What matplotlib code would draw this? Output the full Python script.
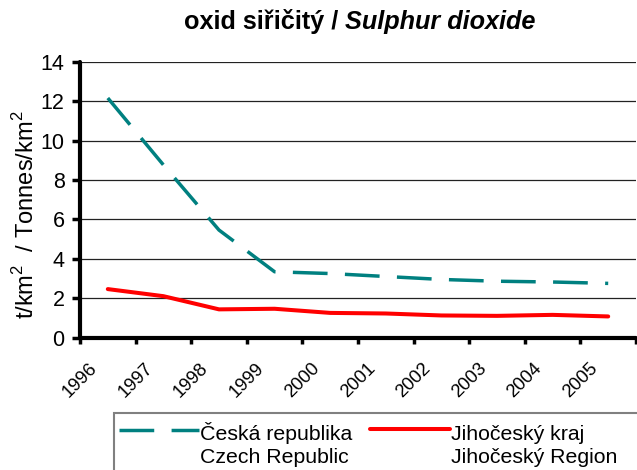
import matplotlib
matplotlib.use("Agg")
import matplotlib.pyplot as plt
from matplotlib.lines import Line2D
from matplotlib.patches import Rectangle

plt.rcParams['font.family'] = ['Liberation Sans', 'DejaVu Sans']
plt.rcParams['mathtext.fontset'] = 'custom'
plt.rcParams['mathtext.rm'] = 'Liberation Sans'

years = ['1996', '1997', '1998', '1999', '2000', '2001', '2002', '2003', '2004', '2005']
czech = [12.17, 8.77, 5.46, 3.34, 3.25, 3.10, 2.95, 2.86, 2.82, 2.75]
jihocesky = [2.46, 2.10, 1.43, 1.46, 1.25, 1.22, 1.12, 1.10, 1.15, 1.07]
yticks = [0, 2, 4, 6, 8, 10, 12, 14]

W, H = 637, 470
fig = plt.figure(figsize=(W / 100, H / 100), dpi=100)
ax_l, ax_r, ax_t, ax_b = 80, 636, 62, 337.5
ax = fig.add_axes([ax_l / W, 1 - ax_b / H, (ax_r - ax_l) / W, (ax_b - ax_t) / H])

x = list(range(len(years)))
teal = '#008080'
ax.plot(x, czech, color=teal, lw=2.5, linestyle=(0, (10, 5)),
        dash_capstyle='butt', zorder=3, clip_on=False)
ax.plot(x, jihocesky, color='#FF0000', lw=2.9, solid_capstyle='round', zorder=3, clip_on=False)

ax.set_xlim(-0.5, len(years) - 0.5)
ax.set_ylim(0, 14)
ax.set_yticks(yticks)
ax.set_yticklabels([str(v) for v in yticks], fontsize=15.5)
for v in yticks[1:]:
    ax.axhline(v, color='#222222', lw=0.9, zorder=1)

ticks = [i - 0.5 for i in range(len(years) + 1)]
ax.set_xticks(ticks)
ax.set_xticklabels(years + [''], fontsize=13.3, rotation=45, ha='center', va='center')
ax.tick_params(axis='x', length=4, width=2.5, pad=27, direction='out')
ax.tick_params(axis='y', length=6, width=2.5, pad=5, direction='out')

for s in ['top', 'right']:
    ax.spines[s].set_visible(False)
for s in ['left', 'bottom']:
    ax.spines[s].set_linewidth(3)
    ax.spines[s].set_capstyle('round')

fig.text(26 / W, 1 - 215 / H, 't/km$^\\mathregular{2}$  / Tonnes/km$^\\mathregular{2}$',
         rotation=90, ha='center', va='center', fontsize=17)

# title in two parts (bold + bold italic), centred
t1 = fig.text(0, 1 - 22 / H, 'oxid siřičitý / ', ha='left', va='center',
              fontsize=18.2, fontweight='bold')
t2 = fig.text(0, 1 - 22 / H, 'Sulphur dioxide', ha='left', va='center',
              fontsize=18.2, fontweight='bold', fontstyle='italic')
fig.canvas.draw()
r = fig.canvas.get_renderer()
w1 = t1.get_window_extent(r).width
w2 = t2.get_window_extent(r).width
start = 360 - (w1 + w2) / 2
t1.set_x(start / W)
t2.set_x((start + w1) / W)

# legend
fig.patches.append(Rectangle((113.5 / W, -0.1), 1.0, (H - 413) / H + 0.1, transform=fig.transFigure,
                             fill=False, edgecolor='#808080', lw=1.5))
fig.lines.append(Line2D([119 / W, 199 / W], [1 - 430 / H, 1 - 430 / H], transform=fig.transFigure,
                        color=teal, lw=2.5, linestyle=(0, (10, 5))))
fig.lines.append(Line2D([370 / W, 450 / W], [1 - 429 / H, 1 - 429 / H], transform=fig.transFigure,
                        color='#FF0000', lw=2.9, solid_capstyle='round'))
fs = 15.3
fig.text(200 / W, 1 - 440 / H, 'Česká republika', ha='left', va='baseline', fontsize=fs)
fig.text(200 / W, 1 - 463 / H, 'Czech Republic', ha='left', va='baseline', fontsize=fs)
fig.text(451 / W, 1 - 440 / H, 'Jihočeský kraj', ha='left', va='baseline', fontsize=fs)
fig.text(451 / W, 1 - 463 / H, 'Jihočeský Region', ha='left', va='baseline', fontsize=fs)

fig.savefig('out.png', dpi=100)
